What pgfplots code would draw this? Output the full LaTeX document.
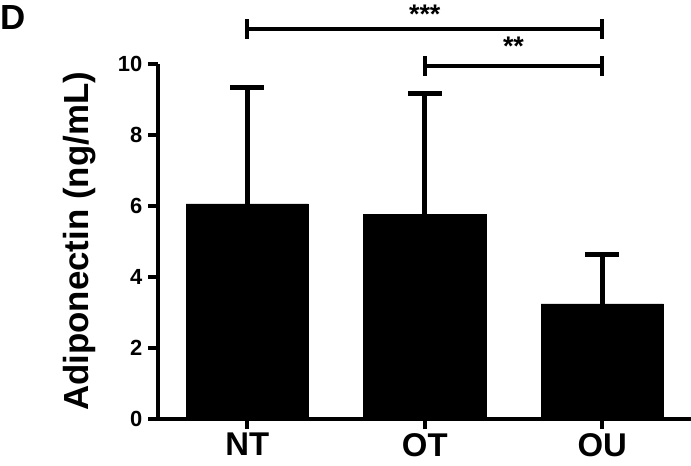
\documentclass[border=0pt]{standalone}
\usepackage{fontspec}
\setmainfont{Liberation Sans}
\usepackage{pgfplots}
\pgfplotsset{compat=1.18}
\begin{document}
\begin{tikzpicture}
\begin{axis}[
  scale only axis, width=532.5bp, height=355bp,
  xmin=-0.5, xmax=2.5, ymin=0, ymax=10,
  axis x line=bottom, axis y line=left,
  axis line style={line width=4bp,-},
  xtick={0,1,2}, xticklabels={NT,OT,OU},
  ytick={0,2,4,6,8,10},
  tick align=outside, major tick length=10bp,
  tick style={line width=4bp, black},
  /pgf/number format/assume math mode=true,
  yticklabel style={font=\fontsize{22}{22}\selectfont\bfseries, inner sep=1bp, xshift=-5bp},
  xticklabel style={font=\fontsize{33}{33}\selectfont\bfseries, inner sep=0bp, yshift=-4bp},
  clip=false,
]
\addplot[ybar, bar width=0.69, fill=black, draw=black,
  error bars/.cd, y dir=plus, y explicit,
  error bar style={line width=5bp, black},
  error mark options={rotate=90, line width=5bp, mark size=17bp, black}]
  table[x=x, y=y, y error=e] {
  x y e
  0 6.06 3.27
  1 5.77 3.41
  2 3.24 1.38
};
\coordinate (bl) at (rel axis cs:0,0);
\coordinate (tr) at (rel axis cs:1,1);
\node[rotate=90, anchor=base, font=\fontsize{35}{35}\selectfont\bfseries, inner sep=0pt]
  at ([xshift=-70bp]rel axis cs:0,0.5) {Adiponectin (ng/mL)};
% significance brackets
\draw[line width=4bp] (axis cs:0,10.99) -- (axis cs:2,10.99);
\draw[line width=4bp] ([yshift=-10bp]axis cs:0,10.99) -- ([yshift=10bp]axis cs:0,10.99);
\draw[line width=4bp] ([yshift=-10bp]axis cs:2,10.99) -- ([yshift=10bp]axis cs:2,10.99);
\draw[line width=4bp] (axis cs:1,9.94) -- (axis cs:2,9.94);
\draw[line width=4bp] ([yshift=-10bp]axis cs:1,9.94) -- ([yshift=10bp]axis cs:1,9.94);
\draw[line width=4bp] ([yshift=-10bp]axis cs:2,9.94) -- ([yshift=10bp]axis cs:2,9.94);
\node[anchor=base, font=\fontsize{27}{27}\selectfont\bfseries, inner sep=0pt] at ([yshift=-23bp]axis cs:1,11.8) {***};
\node[anchor=base, font=\fontsize{27}{27}\selectfont\bfseries, inner sep=0pt] at ([yshift=-21bp]axis cs:1.5,10.82) {**};
\end{axis}
\node[anchor=north west, inner sep=0pt, font=\fontsize{35}{35}\selectfont\bfseries] at ([xshift=-158.5bp,yshift=59bp]tr -| bl) {D};
\pgfresetboundingbox
\path ([xshift=-158.5bp,yshift=-47bp]bl) rectangle ([yshift=64bp]tr);
\end{tikzpicture}
\end{document}
